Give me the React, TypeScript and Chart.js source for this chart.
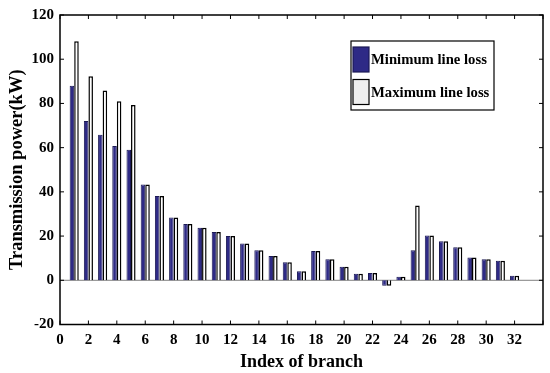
import React, { useEffect, useRef } from "react";
import { Chart, registerables } from "chart.js";

Chart.register(...registerables);

const branches = [1, 2, 3, 4, 5, 6, 7, 8, 9, 10, 11, 12, 13, 14, 15, 16, 17, 18, 19, 20, 21, 22, 23, 24, 25, 26, 27, 28, 29, 30, 31, 32];
const minLoss = [88, 72.1, 65.8, 60.7, 59.1, 43.3, 38.1, 28.4, 25.5, 23.8, 21.8, 20, 16.6, 13.6, 11, 8.2, 4.1, 13.2, 9.5, 6.1, 2.9, 3.3, -2.5, 1.6, 13.6, 20.3, 17.7, 15, 10.3, 9.5, 8.8, 2];
const maxLoss = [108.1, 92.3, 85.8, 81, 79.3, 43.3, 38.1, 28.4, 25.5, 23.8, 21.8, 20, 16.6, 13.6, 11, 8.2, 4.1, 13.2, 9.5, 6.1, 2.9, 3.3, -2.5, 1.6, 33.8, 20.3, 17.7, 15, 10.3, 9.5, 8.8, 2];
const seriesNames = ["Minimum line loss", "Maximum line loss"];
const xTitle = "Index of branch";
const yTitle = "Transmission power(kW)";

const NAVY = "#2e2a86";
const FONT = "'Liberation Serif', 'Times New Roman', serif";

const boxPlugin = {
  id: "matlabBox",
  beforeDatasetsDraw(chart: any) {
    const { ctx, chartArea } = chart;
    const y0 = chart.scales.y.getPixelForValue(0);
    ctx.save();
    ctx.strokeStyle = "#808080";
    ctx.lineWidth = 1;
    ctx.beginPath();
    ctx.moveTo(chartArea.left, y0);
    ctx.lineTo(chartArea.right, y0);
    ctx.stroke();
    ctx.restore();
  },
  afterDatasetsDraw(chart: any) {
    const { ctx, chartArea } = chart;
    const { left, right, top, bottom } = chartArea;
    ctx.save();
    ctx.strokeStyle = "#000";
    ctx.lineWidth = 1.5;
    ctx.strokeRect(left, top, right - left, bottom - top);
    ctx.lineWidth = 1;
    const len = 4;
    ctx.beginPath();
    chart.scales.x.ticks.forEach((t: any) => {
      const px = chart.scales.x.getPixelForValue(t.value);
      ctx.moveTo(px, bottom);
      ctx.lineTo(px, bottom - len);
      ctx.moveTo(px, top);
      ctx.lineTo(px, top + len);
    });
    chart.scales.y.ticks.forEach((t: any) => {
      const py = chart.scales.y.getPixelForValue(t.value);
      ctx.moveTo(left, py);
      ctx.lineTo(left + len, py);
      ctx.moveTo(right, py);
      ctx.lineTo(right - len, py);
    });
    ctx.stroke();
    ctx.restore();
  },
  afterDraw(chart: any) {
    const { ctx } = chart;
    const bx = 351, by = 41, bw = 143, bh = 69;
    ctx.save();
    ctx.fillStyle = "#fff";
    ctx.fillRect(bx, by, bw, bh);
    ctx.strokeStyle = "#000";
    ctx.lineWidth = 1.2;
    ctx.strokeRect(bx, by, bw, bh);
    const items = chart.data.datasets.map((d: any) => ({
      label: d.label,
      fill: d.legendFill,
    }));
    items.forEach((it: any, i: number) => {
      const sy = 47 + i * 32.5;
      ctx.fillStyle = it.fill;
      ctx.fillRect(353, sy, 16, 25);
      ctx.lineWidth = 1.2;
      ctx.strokeStyle = i === 0 ? "#1c1a55" : "#000";
      ctx.strokeRect(353, sy, 16, 25);
      ctx.fillStyle = "#000";
      ctx.font = `bold 14.7px ${FONT}`;
      ctx.textBaseline = "middle";
      ctx.textAlign = "left";
      ctx.fillText(it.label, 371, sy + 13.5);
    });
    ctx.restore();
  },
};

export default function App() {
  const ref = useRef<HTMLCanvasElement | null>(null);
  useEffect(() => {
    if (!ref.current) return;
    const chart = new Chart(ref.current, {
      type: "bar",
      data: {
        datasets: [
          {
            label: seriesNames[0],
            data: branches.map((b, i) => ({ x: b, y: minLoss[i] })),
            backgroundColor: NAVY,
            borderColor: "#1c1a55",
            borderWidth: 1,
            legendFill: NAVY,
          } as any,
          {
            label: seriesNames[1],
            data: branches.map((b, i) => ({ x: b, y: maxLoss[i] })),
            backgroundColor: "#ffffff",
            borderColor: "#000000",
            borderWidth: 1.5,
            legendFill: "#efefef",
          } as any,
        ],
      },
      options: {
        animation: false,
        responsive: false,
        devicePixelRatio: 1,
        categoryPercentage: 0.64,
        barPercentage: 1,
        layout: { padding: { top: 11, right: 5, left: 0, bottom: 0 } },
        plugins: {
          legend: { display: false },
          tooltip: { enabled: false },
        },
        scales: {
          x: {
            type: "linear",
            offset: false,
            min: 0,
            max: 34,
            grid: { display: false, drawTicks: false },
            border: { display: false },
            ticks: {
              stepSize: 2,
              autoSkip: false,
              maxRotation: 0,
              padding: 7,
              color: "#000",
              font: { family: FONT, weight: "bold", size: 15 },
              callback: (v: any) => (v > 32 ? "" : String(v)),
            },
            title: {
              display: true,
              text: xTitle,
              color: "#000",
              font: { family: FONT, weight: "bold", size: 18 },
              padding: { top: 0, bottom: 0 },
            },
            afterFit: (s: any) => {
              s.height = 48.5;
            },
          },
          y: {
            min: -20,
            max: 120,
            grid: { display: false, drawTicks: false },
            border: { display: false },
            ticks: {
              stepSize: 20,
              padding: 6,
              color: "#000",
              font: { family: FONT, weight: "bold", size: 15 },
            },
            title: {
              display: true,
              text: yTitle,
              color: "#000",
              font: { family: FONT, weight: "bold", size: 18.5 },
              padding: { top: 6, bottom: 0 },
            },
            afterFit: (s: any) => {
              s.width = 60;
            },
          },
        },
      } as any,
      plugins: [boxPlugin],
    });
    return () => chart.destroy();
  }, []);
  return (
    <div style={{ position: "absolute", left: 0, top: 0, width: 550, height: 373, background: "#fff" }}>
      <canvas ref={ref} width={550} height={373} />
    </div>
  );
}
